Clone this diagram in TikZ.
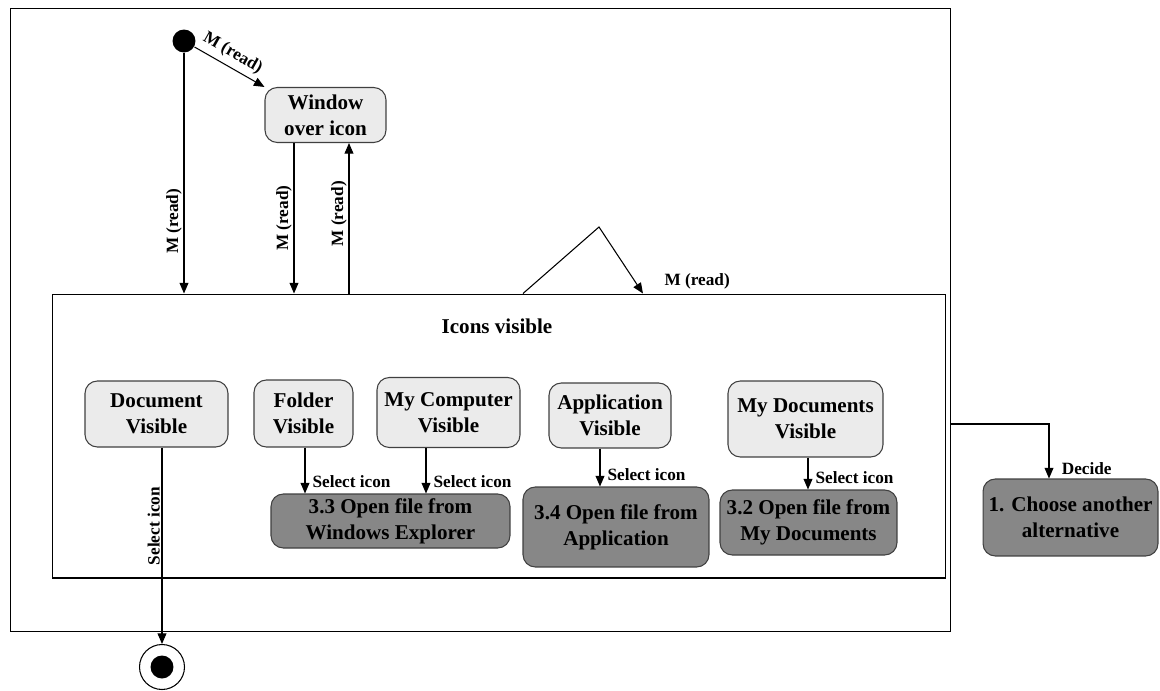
\documentclass[tikz,border=0pt]{standalone}
\usepackage{fontspec}
\setmainfont{Liberation Serif}
\usetikzlibrary{positioning,arrows.meta}

\begin{document}
\begin{tikzpicture}[x=0.02cm, y=-0.02cm, line width=0.6pt, >={Triangle[length=6pt,width=5pt]}]
\tikzstyle{lite}=[rectangle, rounded corners=7pt, draw=black!75, fill=black!8, align=center,
                  inner sep=0pt, font=\bfseries\fontsize{12}{15}\selectfont]
\tikzstyle{dark}=[lite, fill=black!47]
\tikzstyle{lbl}=[inner sep=1pt, font=\bfseries\fontsize{9.8}{11}\selectfont]
\tikzstyle{vlbl}=[lbl, rotate=90, anchor=south]
\useasboundingbox (0,0) rectangle (1160,690);
% outer state and the composite state
\node[draw, minimum width=18.82cm, minimum height=12.48cm] (outer) at (480.5,320) {};
\node[draw, minimum width=17.88cm, minimum height=5.68cm] (icons) at (499,436) {};
\node[lbl, font=\bfseries\fontsize{12}{15}\selectfont] (title) at (497,326) {Icons visible};
% start and end
\node[circle, fill=black, minimum size=0.46cm, inner sep=0] (init) at (184,41) {};
\node[circle, draw, minimum size=0.9cm, inner sep=0] (fin) at (162,667) {};
\node[circle, fill=black, minimum size=0.46cm, inner sep=0] (fdot) at (fin) {};
% states
\node[lite, minimum width=2.42cm, minimum height=1.1cm] (win) at (325.5,115) {Window\\over icon};
\node[lite, minimum width=2.86cm, minimum height=1.32cm] (doc) at (156.5,414) {Document\\Visible};
\node[lite, minimum width=1.98cm, minimum height=1.34cm] (fold) at (303.5,413.5) {Folder\\Visible};
\node[lite, minimum width=2.86cm, minimum height=1.4cm] (comp) at (448.5,412.5) {My Computer\\Visible};
\node[lite, minimum width=2.44cm, minimum height=1.3cm] (app) at (610,415.5) {Application\\Visible};
\node[lite, minimum width=3.1cm, minimum height=1.52cm] (mydoc) at (805.5,419) {My Documents\\Visible};
\node[dark, minimum width=4.78cm, minimum height=1.08cm] (explorer) at (390.5,521) {3.3 Open file from\\Windows Explorer};
\node[dark, minimum width=3.72cm, minimum height=1.6cm] (openapp) at (616,527) {3.4 Open file from\\Application};
\node[dark, minimum width=3.54cm, minimum height=1.3cm] (openmy) at (808.5,522.5) {3.2 Open file from\\My Documents};
\node[dark, minimum width=3.5cm, minimum height=1.54cm] (choose) at (1070.5,517.5) {1. Choose another\\alternative};
% transitions
\draw[->] (init) -- node[lbl, sloped, above=2pt, pos=0.45] {M (read)} (win.north west);
\draw[->] (init) -- (init |- icons.north) node[vlbl, pos=0.7] {M (read)};
\draw[->] ([xshift=-0.63cm]win.south) -- ([xshift=-0.63cm]win.south |- icons.north) node[vlbl, midway] {M (read)};
\draw[->] ([xshift=0.47cm]win.south |- icons.north) -- ([xshift=0.47cm]win.south) node[vlbl, pos=0.53] {M (read)};
\draw[->] ([xshift=0.48cm]icons.north) -- (599,227) -- ([xshift=2.88cm]icons.north)
      node[lbl, above right=1pt and 11pt] {M (read)};
\foreach \a/\b/\s in {fold/explorer/0.03, comp/explorer/-0.45, app/openapp/-0.2, mydoc/openmy/0.05}{
  \draw[->] ([xshift=\s cm]\a.south) -- ([xshift=\s cm]\a.south |- \b.north)
      node[lbl, above right=2pt and 3pt] {Select icon};}
\draw[->] (fin |- doc.south) -- (fin.north) node[vlbl, pos=0.4] {Select icon};
\draw[->] ([yshift=-2.08cm]outer.east) -| ([xshift=-0.43cm]choose.north)
      node[lbl, above right=1pt and 6pt] {Decide};
\end{tikzpicture}
\end{document}
